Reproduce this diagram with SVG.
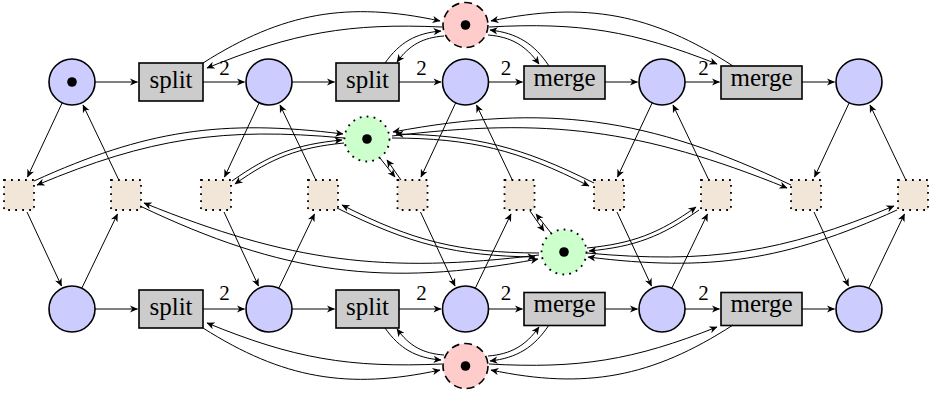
<svg xmlns="http://www.w3.org/2000/svg" width="938" height="394" viewBox="0 0 938 394">
<defs>
<style>
.place{fill:#ccccff;stroke:#000;stroke-width:1.6}
.res{fill:#ffcccc;stroke:#000;stroke-width:1.6;stroke-dasharray:8 5}
.lock{fill:#ccffcc;stroke:#000;stroke-width:1.8;stroke-dasharray:1.8 5.2}
.trans{fill:#cccccc;stroke:#000;stroke-width:1.6}
.aux{fill:#f2e6d9;stroke:#000;stroke-width:1.8;stroke-dasharray:1.8 5.2}
.tok{fill:#000}
.lbl{font-family:"Liberation Serif","Times New Roman",serif;font-size:25px;text-anchor:middle;fill:#000}
.w{font-family:"Liberation Serif","Times New Roman",serif;font-size:21px;text-anchor:middle;fill:#000}
#edges path{fill:none;stroke:#000;stroke-width:1;marker-end:url(#ah)}
</style>
<marker id="ah" viewBox="-8 -4 9 8" refX="0" refY="0" markerWidth="9" markerHeight="8" markerUnits="userSpaceOnUse" orient="auto">
<path d="M0.5,0 L-7.5,-3.6 L-5.2,0 L-7.5,3.6 Z" fill="#000"/>
</marker>
</defs>
<rect width="938" height="394" fill="#fff"/>

<!-- top row places -->
<g id="pt1"><circle class="place" cx="72" cy="82" r="23"/><circle class="tok" cx="72" cy="82" r="4.8"/></g>
<g id="pt2"><circle class="place" cx="269" cy="82" r="23"/></g>
<g id="pt3"><circle class="place" cx="465.5" cy="82" r="23"/></g>
<g id="pt4"><circle class="place" cx="662" cy="82" r="23"/></g>
<g id="pt5"><circle class="place" cx="859" cy="82" r="23"/></g>
<!-- bottom row places -->
<g id="pb1"><circle class="place" cx="72" cy="309" r="23"/></g>
<g id="pb2"><circle class="place" cx="269" cy="309" r="23"/></g>
<g id="pb3"><circle class="place" cx="465.5" cy="309" r="23"/></g>
<g id="pb4"><circle class="place" cx="662" cy="309" r="23"/></g>
<g id="pb5"><circle class="place" cx="859" cy="309" r="23"/></g>
<!-- resource places -->
<g id="rtop"><circle class="res" cx="465.5" cy="25" r="22.5"/><circle class="tok" cx="465.5" cy="25" r="4.8"/></g>
<g id="rbot"><circle class="res" cx="465.5" cy="366" r="22.5"/><circle class="tok" cx="465.5" cy="366" r="4.8"/></g>
<!-- lock places -->
<g id="gtop"><circle class="lock" cx="367" cy="139" r="22.5"/><circle class="tok" cx="367" cy="139" r="4.8"/></g>
<g id="gbot"><circle class="lock" cx="564" cy="252" r="22.5"/><circle class="tok" cx="564" cy="252" r="4.8"/></g>

<!-- transitions top -->
<g id="tt1"><rect class="trans" x="139" y="63" width="64" height="38"/><text class="lbl" x="171" y="88">split</text></g>
<g id="tt2"><rect class="trans" x="336" y="63" width="63" height="38"/><text class="lbl" x="367.5" y="88">split</text></g>
<g id="tt3"><rect class="trans" x="524" y="66" width="81" height="33"/><text class="lbl" x="564.5" y="85.5">merge</text></g>
<g id="tt4"><rect class="trans" x="721" y="66" width="81" height="33"/><text class="lbl" x="761.5" y="85.5">merge</text></g>
<!-- transitions bottom -->
<g id="tb1"><rect class="trans" x="139" y="290" width="64" height="38"/><text class="lbl" x="171" y="315">split</text></g>
<g id="tb2"><rect class="trans" x="336" y="290" width="63" height="38"/><text class="lbl" x="367.5" y="315">split</text></g>
<g id="tb3"><rect class="trans" x="524" y="292.5" width="81" height="33"/><text class="lbl" x="564.5" y="312">merge</text></g>
<g id="tb4"><rect class="trans" x="721" y="292.5" width="81" height="33"/><text class="lbl" x="761.5" y="312">merge</text></g>

<!-- auxiliary transitions -->
<g id="a1"><rect class="aux" x="4" y="180" width="30" height="30"/></g>
<g id="a2"><rect class="aux" x="111" y="180" width="30" height="30"/></g>
<g id="a3"><rect class="aux" x="201" y="180" width="30" height="30"/></g>
<g id="a4"><rect class="aux" x="308" y="180" width="30" height="30"/></g>
<g id="a5"><rect class="aux" x="397.5" y="180" width="30" height="30"/></g>
<g id="a6"><rect class="aux" x="504.5" y="180" width="30" height="30"/></g>
<g id="a7"><rect class="aux" x="594" y="180" width="30" height="30"/></g>
<g id="a8"><rect class="aux" x="701" y="180" width="30" height="30"/></g>
<g id="a9"><rect class="aux" x="791" y="180" width="30" height="30"/></g>
<g id="a10"><rect class="aux" x="898" y="180" width="30" height="30"/></g>

<g id="edges">
<!-- top row -->
<path d="M95,82 L137.5,82"/>
<path d="M203,82 L244.5,82"/>
<path d="M292,82 L334.5,82"/>
<path d="M399,82 L441,82"/>
<path d="M488.5,82 L522.5,82"/>
<path d="M605,82 L637.5,82"/>
<path d="M685,82 L719.5,82"/>
<path d="M802,82 L834.5,82"/>
<!-- bottom row -->
<path d="M95,309 L137.5,309"/>
<path d="M203,309 L244.5,309"/>
<path d="M292,309 L334.5,309"/>
<path d="M399,309 L441,309"/>
<path d="M488.5,309 L522.5,309"/>
<path d="M605,309 L637.5,309"/>
<path d="M685,309 L719.5,309"/>
<path d="M802,309 L834.5,309"/>
<!-- weights -->
<text class="w" x="224.5" y="74.5">2</text>
<text class="w" x="421.5" y="74.5">2</text>
<text class="w" x="506" y="74.5">2</text>
<text class="w" x="703.5" y="74.5">2</text>
<text class="w" x="224.5" y="300">2</text>
<text class="w" x="421.5" y="300">2</text>
<text class="w" x="506" y="300">2</text>
<text class="w" x="703.5" y="300">2</text>
<!-- columns -->
<path d="M62.2,102.8 L27.5,177"/>
<path d="M27,212 L61.5,286"/>
<path d="M81.8,288.2 L117.5,214"/>
<path d="M118.8,180 L83,105"/>
<path d="M259.2,102.8 L224.5,177"/>
<path d="M224,212 L258.5,286"/>
<path d="M278.8,288.2 L314.5,214"/>
<path d="M315.8,180 L280,105"/>
<path d="M455.7,102.8 L421,177"/>
<path d="M420.5,212 L455,286"/>
<path d="M475.3,288.2 L511,214"/>
<path d="M512.3,180 L476.5,105"/>
<path d="M652.2,102.8 L617.5,177"/>
<path d="M617,212 L651.5,286"/>
<path d="M671.8,288.2 L707.5,214"/>
<path d="M708.8,180 L673,105"/>
<path d="M849.2,102.8 L814.5,177"/>
<path d="M814,212 L848.5,286"/>
<path d="M868.8,288.2 L904.5,214"/>
<path d="M905.8,180 L870,105"/>
<!-- top resource -->
<path d="M203,63 C282.5,12.5 348,0.9 440,21"/>
<path d="M442,27 C348.7,22.9 293.4,32.6 207,68"/>
<path d="M385,63 C399.6,42.4 415.8,33.1 441,31"/>
<path d="M444,36 C423,37.5 409.3,45 397,62"/>
<path d="M488,35 C510.9,36.8 525.7,45.3 539,64"/>
<path d="M549,66 C534.1,43.5 516.8,33 490,30"/>
<path d="M733,66 C652.1,13.6 585.3,1.1 491,21"/>
<path d="M489,27 C579.3,22 632.9,30.7 717,64"/>
<!-- bottom resource -->
<path d="M203,328 C282.5,378.5 348,390.1 440,370"/>
<path d="M442,364 C348.7,368.1 293.4,358.4 207,323"/>
<path d="M385,328 C399.6,348.6 415.8,357.9 441,360"/>
<path d="M444,355 C423,353.5 409.3,346 397,329"/>
<path d="M488,356 C510.9,354.2 525.7,345.7 539,327"/>
<path d="M549,325 C534.1,347.5 516.8,358 490,361"/>
<path d="M733,325 C652.1,377.4 585.3,389.9 491,370"/>
<path d="M489,364 C579.3,369 632.9,360.3 717,327"/>
<!-- top lock -->
<path d="M34,181 C145.4,130.3 221.6,118.8 343,134"/>
<path d="M344,138 C222.9,126.8 149.2,138.1 37,185"/>
<path d="M232,181 C269.5,154.4 296.2,144.3 342,140"/>
<path d="M344,143 C298.6,147.5 272.1,157.5 235,184"/>
<path d="M380,158 L395,177"/>
<path d="M401,180 L387,160"/>
<path d="M594,183 C522,146.9 475.2,135 396,134"/>
<path d="M392,138 C471,138.2 517.8,149.7 589,186"/>
<path d="M791,185 C648.5,117 546.8,103.1 393,132"/>
<path d="M392,136 C547,117 641,129 787,188"/>
<!-- bottom lock -->
<path d="M897,210 C785.6,260.7 709.4,272.2 588,257"/>
<path d="M587,253 C708.1,264.2 781.8,252.9 894,206"/>
<path d="M699,210 C661.5,236.6 634.8,246.7 589,251"/>
<path d="M587,248 C632.4,243.5 658.9,233.5 696,207"/>
<path d="M551,233 L536,214"/>
<path d="M530,211 L544,231"/>
<path d="M337,208 C409,244.1 455.8,256 535,257"/>
<path d="M539,253 C460,252.8 413.2,241.3 342,205"/>
<path d="M140,206 C282.5,274 384.2,287.9 538,259"/>
<path d="M539,255 C384,274 290,262 144,203"/>
</g>
</svg>
